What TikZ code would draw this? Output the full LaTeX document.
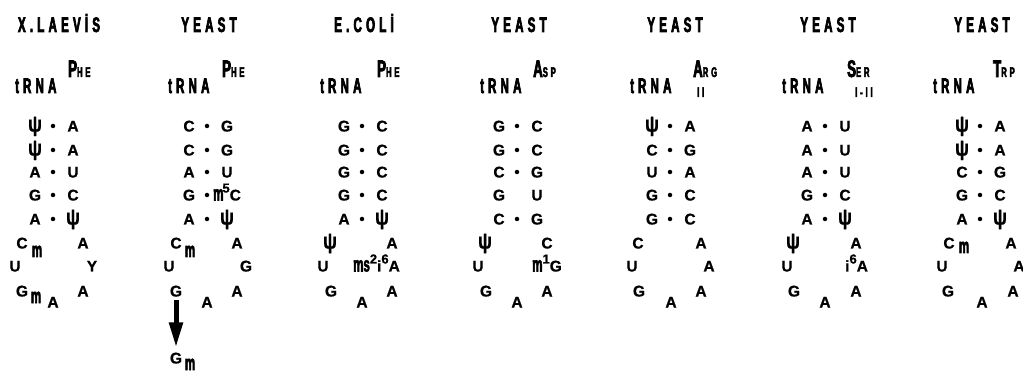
\documentclass[tikz,border=0pt]{standalone}
\usepackage{fontspec}
\setmainfont{Liberation Sans}
\newfontfamily\bse{Liberation Sans}[UprightFont=* Bold, FakeBold=0.8]
\newfontfamily\cnd{Liberation Sans}[UprightFont=* Bold, FakeStretch=0.55, FakeBold=3, LetterSpace=20]
\newfontfamily\blk{Liberation Sans}[UprightFont=* Bold, FakeStretch=0.55, FakeBold=2.5]
\usetikzlibrary{arrows.meta}

% base letters of the stems and loops
\tikzset{
  base/.style={font=\bse\fontsize{15.5}{15.5}\selectfont, inner sep=0pt, anchor=base, yshift=-5.5pt},
  wbase/.style={base, anchor=base west},
  bdot/.style={circle, fill=black, draw=none, inner sep=0pt, minimum size=4.5pt},
  msub/.style={font=\blk\fontsize{21}{21}\selectfont, inner sep=0pt, anchor=base},
  title/.style={font=\cnd\fontsize{21}{21}\selectfont, inner sep=0pt, anchor=base},
  trna/.style={font=\cnd\fontsize{21}{21}\selectfont, inner sep=0pt, anchor=base west},
  aa/.style={font=\cnd, inner sep=0pt, anchor=base west},
  iso/.style={font=\cnd\fontsize{14}{14}\selectfont, inner sep=0pt, anchor=base west},
  bigarrow/.style={line width=5pt, -{Triangle[width=13pt,length=25pt]}},
}
\newcommand\ps{\scalebox{1.2}[1.45]{ψ}}
\newcommand\dg[1]{\raisebox{8pt}{\fontsize{13}{13}\selectfont #1}}
\newcommand\ml{{\blk\fontsize{21}{21}\selectfont m}}
\newcommand\ms{{\blk\fontsize{21}{21}\selectfont ms}}
\newcommand\three[2]{{\fontsize{24}{24}\selectfont #1}{\fontsize{14}{14}\selectfont #2}}
% base pair: name, centre x, row y, left letter, right letter
\newcommand\bp[5]{%
  \node[base] (#1l) at (#2-18,#3) {#4};
  \node[bdot] (#1d) at (#2,#3) {};
  \node[base] (#1r) at (#2+20,#3) {#5};}
% unpaired bases facing each other
\newcommand\np[5]{%
  \node[base] (#1l) at (#2-18,#3) {#4};
  \node[base] (#1r) at (#2+20,#3) {#5};}

\begin{document}
\begin{tikzpicture}[x=1pt,y=-1pt]
\useasboundingbox (0,0) rectangle (1023,374);
\clip (0,0) rectangle (1023,374);

% ---------- column 1 : X. laevis tRNA Phe
\node[title] (h1) at (59,32) {X.LAEVİS};
\node[trna] (n1) at (15,93) {t\kern4pt RNA};
\node[aa] (s1) at (68,77) {\three{P}{HE}};
\bp{a1}{53}{126}{\ps}{A}
\bp{a2}{53}{150}{\ps}{A}
\bp{a3}{53}{172}{A}{U}
\bp{a4}{53}{195}{G}{C}
\bp{a5}{53}{219}{A}{\ps}
\node[base] (a6l) at (22,243) {C};
\node[msub] (a6m) at (37,257) {m};
\node[base] (a6r) at (83,243) {A};
\node[base] (a7l) at (15,266) {U};
\node[base] (a7r) at (92,266) {Y};
\node[base] (a8l) at (22,291) {G};
\node[msub] (a8m) at (36,303) {m};
\node[base] (a8c) at (53,302) {A};
\node[base] (a8r) at (83,291) {A};

% ---------- column 2 : yeast tRNA Phe
\node[title] (h2) at (209,32) {YEAST};
\node[trna] (n2) at (168,93) {t\kern4pt RNA};
\node[aa] (s2) at (222,77) {\three{P}{HE}};
\bp{b1}{207}{126}{C}{G}
\bp{b2}{207}{150}{C}{G}
\bp{b3}{207}{172}{A}{U}
\node[base] (b4l) at (189,195) {G};
\node[bdot] (b4d) at (207,195) {};
\node[wbase] (b4r) at (213,195) {\ml\kern-1pt\dg{5}C};
\bp{b5}{207}{219}{A}{\ps}
\node[base] (b6l) at (176,243) {C};
\node[msub] (b6m) at (190,257) {m};
\node[base] (b6r) at (237,243) {A};
\node[base] (b7l) at (169,266) {U};
\node[base] (b7r) at (246,266) {G};
\node[base] (b8l) at (176,291) {G};
\node[base] (b8c) at (207,302) {A};
\node[base] (b8r) at (237,291) {A};
\node[base] (b9) at (176,358) {G};
\node[msub] (b9m) at (190,370) {m};
\draw[bigarrow, shorten <=3.5pt, shorten >=5pt] (b8l.south) -- (b9.north);

% ---------- column 3 : E. coli tRNA Phe
\node[title] (h3) at (364,32) {E.COLİ};
\node[trna] (n3) at (320,93) {t\kern4pt RNA};
\node[aa] (s3) at (377,77) {\three{P}{HE}};
\bp{c1}{362}{126}{G}{C}
\bp{c2}{362}{150}{G}{C}
\bp{c3}{362}{172}{G}{C}
\bp{c4}{362}{195}{G}{C}
\bp{c5}{362}{219}{A}{\ps}
\node[base] (c6l) at (330,243) {\ps};
\node[base] (c6r) at (392,243) {A};
\node[base] (c7l) at (323,266) {U};
\node[wbase] (c7r) at (353,266) {\ms\dg{2}i\dg{6}A};
\node[base] (c8l) at (331,291) {G};
\node[base] (c8c) at (362,302) {A};
\node[base] (c8r) at (392,291) {A};

% ---------- column 4 : yeast tRNA Asp
\node[title] (h4) at (519,32) {YEAST};
\node[trna] (n4) at (480,93) {t\kern4pt RNA};
\node[aa] (s4) at (533,77) {\three{A}{SP}};
\bp{d1}{517}{126}{G}{C}
\bp{d2}{517}{150}{G}{C}
\bp{d3}{517}{172}{C}{G}
\np{d4}{517}{195}{G}{U}
\bp{d5}{517}{219}{C}{G}
\node[base] (d6l) at (485,243) {\ps};
\node[base] (d6r) at (547,243) {C};
\node[base] (d7l) at (478,266) {U};
\node[wbase] (d7r) at (532,266) {\ml\dg{1}G};
\node[base] (d8l) at (486,291) {G};
\node[base] (d8c) at (517,302) {A};
\node[base] (d8r) at (547,291) {A};

% ---------- column 5 : yeast tRNA Arg II
\node[title] (h5) at (675,32) {YEAST};
\node[trna] (n5) at (630,93) {t\kern4pt RNA};
\node[aa] (s5) at (693,77) {\three{A}{RG}};
\node[iso] (i5) at (697,97) {II};
\bp{e1}{670}{126}{\ps}{A}
\bp{e2}{670}{150}{C}{G}
\bp{e3}{670}{172}{U}{A}
\bp{e4}{670}{195}{G}{C}
\bp{e5}{670}{219}{G}{C}
\node[base] (e6l) at (638,243) {C};
\node[base] (e6r) at (701,243) {A};
\node[base] (e7l) at (632,266) {U};
\node[base] (e7r) at (709,266) {A};
\node[base] (e8l) at (639,291) {G};
\node[base] (e8c) at (671,302) {A};
\node[base] (e8r) at (701,291) {A};

% ---------- column 6 : yeast tRNA Ser I-II
\node[title] (h6) at (828,32) {YEAST};
\node[trna] (n6) at (782,93) {t\kern4pt RNA};
\node[aa] (s6) at (847,77) {\three{S}{ER}};
\node[iso] (i6) at (855,97) {I-II};
\bp{f1}{825}{126}{A}{U}
\bp{f2}{825}{150}{A}{U}
\bp{f3}{825}{172}{A}{U}
\bp{f4}{825}{195}{G}{C}
\bp{f5}{825}{219}{A}{\ps}
\node[base] (f6l) at (793,243) {\ps};
\node[base] (f6r) at (856,243) {A};
\node[base] (f7l) at (787,266) {U};
\node[wbase] (f7r) at (845,266) {i\dg{6}A};
\node[base] (f8l) at (794,291) {G};
\node[base] (f8c) at (825,302) {A};
\node[base] (f8r) at (856,291) {A};

% ---------- column 7 : yeast tRNA Trp
\node[title] (h7) at (982,32) {YEAST};
\node[trna] (n7) at (933,93) {t\kern4pt RNA};
\node[aa] (s7) at (993,77) {\three{T}{RP}};
\bp{g1}{980}{126}{\ps}{A}
\bp{g2}{980}{150}{\ps}{A}
\bp{g3}{980}{172}{C}{G}
\bp{g4}{980}{195}{G}{C}
\bp{g5}{980}{219}{A}{\ps}
\node[base] (g6l) at (949,243) {C};
\node[msub] (g6m) at (964,253) {m};
\node[base] (g6r) at (1011,243) {A};
\node[base] (g7l) at (942,266) {U};
\node[base] (g7r) at (1019,266) {A};
\node[base] (g8l) at (948,291) {G};
\node[base] (g8c) at (982,302) {A};
\node[base] (g8r) at (1013,291) {A};
\end{tikzpicture}
\end{document}
